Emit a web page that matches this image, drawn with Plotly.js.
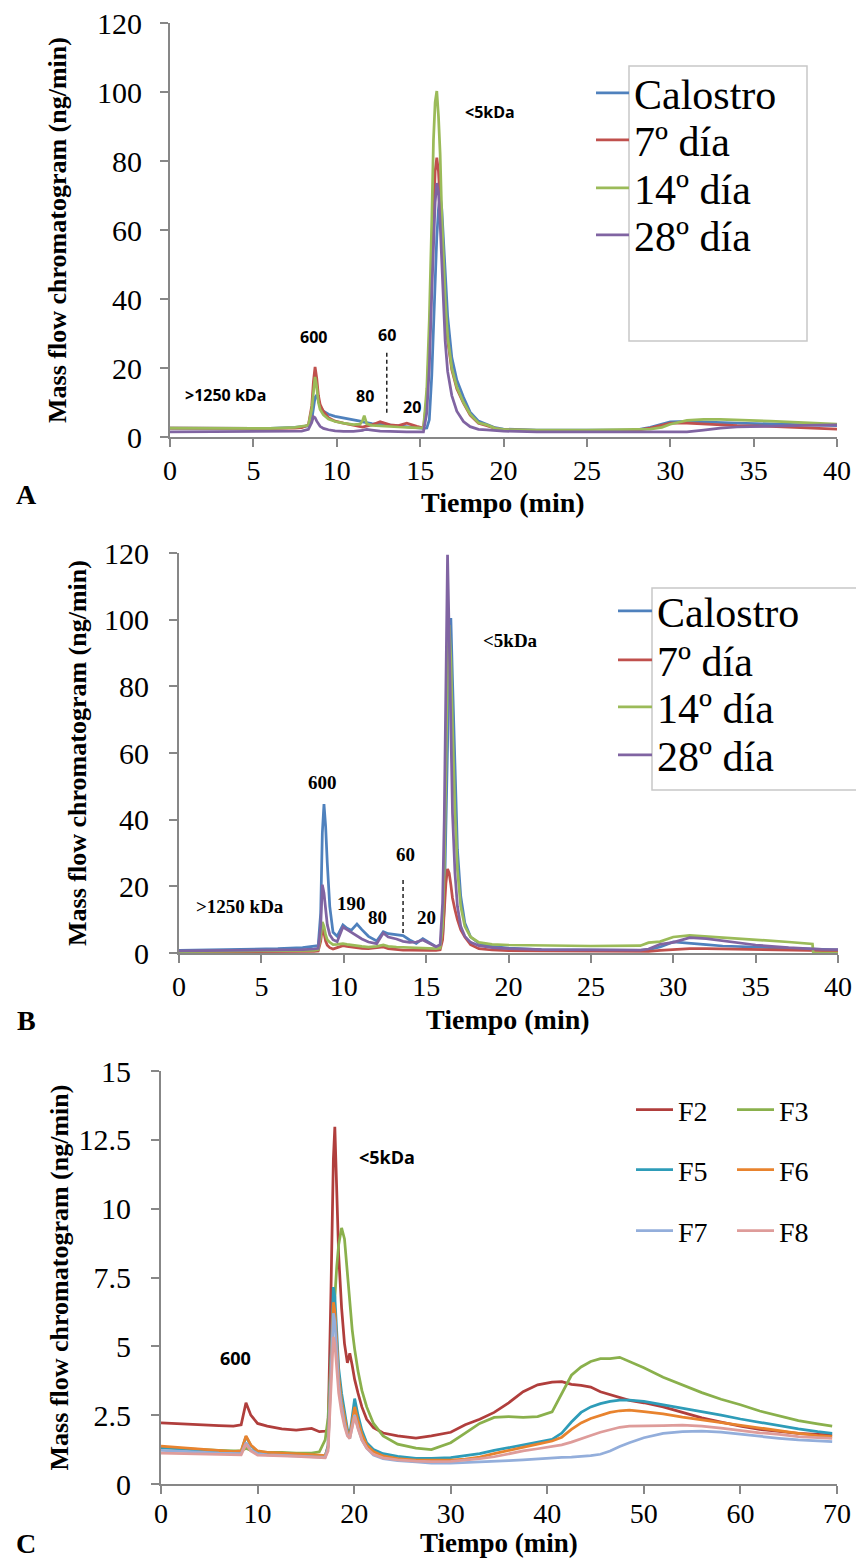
<!DOCTYPE html>
<html><head><meta charset="utf-8">
<script src="https://cdn.plot.ly/plotly-3.0.1.min.js"></script>
<style>html,body{margin:0;padding:0;background:#fff}#chart{width:856px;height:1560px}</style>
</head><body><div id="chart"></div>
<script>
// ---------------- Panel A data ----------------
const timeA = [0,3,6,7.5,7.9,8.3,8.5,8.6,8.7,8.8,8.9,9.0,9.2,9.5,9.9,10.4,11.0,11.4,11.55,11.65,11.8,12.1,12.6,13.2,13.7,14.2,14.8,15.2,
  15.4,15.55,15.7,15.8,15.9,16.0,16.1,16.2,16.3,16.4,16.5,16.65,16.9,17.2,17.6,18.0,18.5,19.0,19.5,20,
  22,25,28,28.8,29.5,30,31,32,33,34,36,38,40];
const calostroA = [2.6,2.5,2.5,2.8,3.0,3.2,5,8.5,11.5,12.2,10.5,8.8,7.5,6.6,6.0,5.6,5.0,4.6,4.4,4.3,4.1,3.9,3.7,3.4,3.1,2.9,2.6,2.5,
  2.6,5,18,32,47,58,66,70,66,57,47,35,23,16.5,11.5,7.2,4.6,3.7,2.7,2.3,
  2.0,2.0,2.1,2.8,3.7,4.4,4.5,4.3,4.2,4.0,3.8,3.5,3.3];
const dia7A = [2.6,2.5,2.5,2.6,2.7,3.5,9,16,20.3,17,12,9.5,7.4,5.6,4.6,4.0,3.4,3.0,2.9,3.0,3.1,3.5,4.4,3.5,3.3,4.0,3.1,2.6,
  11,27,50,67,77,81,77,68,56,45,37,28,19.5,14,9.8,6.3,4.0,3.3,2.5,2.1,
  1.9,1.9,2.0,2.6,3.4,4.0,4.0,3.7,3.5,3.3,3.1,2.8,2.3];
const dia14A = [2.6,2.5,2.5,2.8,3.1,3.4,8,14,17.4,14.5,10,8,6.4,5.2,4.5,4.0,3.6,3.7,4.8,6.2,3.8,3.4,3.2,3.0,2.9,2.8,2.7,2.6,
  14,34,63,86,97,100.3,93,82,64,50,40,29,20,14.5,10,6.6,4.1,3.5,2.5,2.2,
  2.0,2.0,2.1,2.3,2.8,3.7,4.8,5.1,5.1,5.0,4.6,4.2,3.7];
const dia28A = [1.5,1.5,1.5,1.6,1.7,2.2,4.2,5.9,5.6,4.6,3.7,3.1,2.5,2.1,1.8,1.6,1.6,1.7,1.9,2.1,2.2,2.0,1.7,1.6,1.5,1.5,1.5,1.5,
  7,20,42,58,68,73.6,71,62,50,38,28,19,12,7.5,4.5,3.0,2.2,2.1,1.8,1.7,
  1.5,1.5,1.5,1.5,1.4,1.4,1.5,2.0,2.6,2.9,3.2,3.4,3.5];

// ---------------- Panel B data ----------------
const timeB = [0,3,6,7.5,8.2,8.45,8.6,8.7,8.8,8.9,9.0,9.15,9.35,9.6,9.95,10.2,10.45,10.8,11.1,11.5,12.0,12.4,12.7,13.2,13.6,14.0,14.4,14.8,15.2,15.6,15.85,
  16.0,16.1,16.2,16.3,16.4,16.5,16.6,16.75,16.9,17.1,17.35,17.7,18.2,19,20,
  22,25,28,28.5,29.2,30,31,32,33,35,37,38.45,38.5,39,40];
const calostroB = [0.8,1.0,1.3,1.6,2.0,2.2,12,36,44.7,38,27,14,6.2,5.0,8.4,7.4,6.8,8.7,7.0,5.0,3.6,6.4,5.8,5.4,5.2,3.9,2.9,4.3,3.0,1.9,2.1,
  5,14,35,62,95,100.5,82,52,31,17,9,4.8,2.9,2.0,1.5,
  1.0,0.8,0.8,1.0,1.8,3.3,3.0,2.5,2.1,1.7,1.3,1.1,1.1,1.0,0.9];
const dia7B = [0.3,0.3,0.4,0.4,0.5,0.6,3.5,7.5,6.0,3.6,2.3,1.6,1.2,1.6,2.2,2.0,1.8,1.6,1.4,1.3,1.5,1.8,1.3,1.0,0.9,0.9,0.8,0.8,0.8,0.8,1.0,
  4,12,21,25.2,24,20.5,16.5,13,10,7,4.8,2.5,1.3,0.9,0.7,
  0.6,0.5,0.5,0.5,0.8,1.0,1.3,1.3,1.2,1.0,0.8,0.7,0.7,0.6,0.6];
const dia14B = [0.4,0.5,0.6,0.7,0.8,1.0,5,9.3,8.0,5.5,4.0,3.2,2.5,2.6,2.8,2.6,2.4,2.2,2.0,1.8,2.0,2.4,2.0,1.8,1.7,1.6,1.5,1.4,1.3,1.3,1.5,
  8,25,55,85,98.4,88,68,42,25,14,8,4.8,3.2,2.6,2.4,
  2.2,2.1,2.2,3.1,3.4,4.8,5.3,5.0,4.6,3.9,3.3,2.7,0,0,0];
const dia28B = [0.6,0.7,0.8,1.0,1.2,1.4,8,20.5,18,12,8.5,5.5,4.0,3.4,7.8,7.0,6.2,5.0,4.2,3.3,2.8,6.0,4.8,4.2,3.5,3.2,3.3,3.9,2.8,1.9,2.5,
  15,40,85,119.5,95,65,42,24,14,8,5,3.2,2.2,1.6,1.3,
  1.0,0.9,0.9,1.2,2.6,3.2,4.6,4.3,3.6,2.4,1.6,1.2,1.2,1.1,1.0];

// ---------------- Panel C data ----------------
const timeC = [0,2,4,6,7.5,8.3,8.8,9.3,10,11,12.5,14,15.6,16.4,17.0,17.3,17.6,17.85,18.0,18.2,18.4,18.7,19.0,19.3,19.55,
  19.8,20.05,20.4,20.8,21.3,22,23,24.5,26.4,28,30,31.5,33,34.5,36,37.5,39,40.5,41.5,42.5,43.5,44.5,45.5,46.5,47.5,
  48.5,50,52,54,56,58,60,62,64,66,68,69.5];
const F2 = [2.22,2.18,2.15,2.12,2.1,2.15,2.95,2.5,2.2,2.1,2.0,1.96,2.02,1.9,1.92,1.95,7.0,11.8,12.97,10.8,8.3,6.4,5.1,4.4,4.75,
  4.3,3.8,3.3,2.8,2.35,2.05,1.85,1.75,1.67,1.75,1.88,2.15,2.35,2.6,2.95,3.35,3.6,3.7,3.72,3.62,3.58,3.52,3.35,3.25,3.15,
  3.04,2.95,2.8,2.6,2.4,2.25,2.1,1.98,1.9,1.84,1.8,1.78];
const F3 = [1.32,1.28,1.25,1.22,1.2,1.2,1.3,1.22,1.18,1.15,1.15,1.12,1.12,1.17,1.6,2.4,4.5,6.0,6.8,7.9,8.7,9.3,8.9,7.6,6.8,
  5.6,4.9,4.1,3.4,2.8,2.2,1.75,1.45,1.3,1.25,1.5,1.85,2.2,2.42,2.45,2.42,2.45,2.62,3.3,3.95,4.25,4.45,4.55,4.55,4.6,
  4.45,4.22,3.88,3.6,3.32,3.08,2.88,2.65,2.48,2.3,2.18,2.1];
const F5 = [1.32,1.28,1.22,1.2,1.15,1.18,1.72,1.4,1.18,1.12,1.1,1.08,1.05,1.02,1.0,1.4,5.0,7.15,6.8,5.4,4.2,3.3,2.6,2.0,1.78,
  2.5,3.1,2.5,1.95,1.5,1.25,1.1,1.0,0.93,0.93,0.96,1.02,1.1,1.22,1.32,1.42,1.52,1.62,1.85,2.25,2.6,2.8,2.92,3.0,3.05,
  3.05,3.0,2.88,2.74,2.62,2.5,2.36,2.24,2.1,2.0,1.9,1.84];
const F6 = [1.38,1.32,1.26,1.22,1.18,1.2,1.75,1.42,1.2,1.15,1.13,1.1,1.07,1.05,1.03,1.35,4.6,6.6,6.3,5.0,3.9,3.0,2.4,1.9,1.72,
  2.3,2.8,2.3,1.8,1.42,1.18,1.02,0.92,0.87,0.86,0.87,0.9,0.98,1.1,1.22,1.35,1.45,1.56,1.7,1.98,2.22,2.38,2.5,2.6,2.66,
  2.68,2.63,2.55,2.43,2.33,2.22,2.12,2.02,1.92,1.84,1.76,1.72];
const F7 = [1.22,1.2,1.16,1.12,1.1,1.1,1.5,1.25,1.1,1.06,1.04,1.02,1.0,0.98,0.97,1.3,4.3,6.2,5.9,4.7,3.6,2.8,2.2,1.8,1.65,
  2.1,2.5,2.05,1.6,1.3,1.05,0.92,0.85,0.8,0.76,0.76,0.78,0.8,0.81,0.85,0.88,0.92,0.95,0.97,0.98,1.0,1.03,1.08,1.2,1.36,
  1.5,1.68,1.84,1.9,1.92,1.88,1.8,1.74,1.66,1.6,1.56,1.54];
const F8 = [1.12,1.1,1.08,1.06,1.05,1.06,1.45,1.2,1.05,1.03,1.02,1.0,0.98,0.96,0.95,1.2,3.8,5.35,5.1,4.2,3.3,2.6,2.1,1.75,1.65,
  2.05,2.45,2.0,1.6,1.3,1.08,0.95,0.88,0.83,0.81,0.82,0.86,0.92,0.99,1.1,1.2,1.28,1.36,1.42,1.52,1.63,1.76,1.88,1.98,2.06,
  2.1,2.1,2.12,2.14,2.1,2.03,1.94,1.86,1.8,1.72,1.68,1.66];

// labels
const namesAB = ['Calostro','7º día','14º día','28º día'];
const namesC = ['F2','F3','F5','F6','F7','F8'];
const xTitle = 'Tiempo (min)';
const yTitle = 'Mass flow chromatogram (ng/min)';

// size-fraction marker lines (time, y from, y to)
const dashA = {t: 13.0, y0: 7.0, y1: 24.6};
const dashB = {t: 13.6, y0: 6.0, y1: 22.5};

// ---------------- layout helpers ----------------
const W = 856, H = 1560;
const fx = p => p / W;
const fy = p => 1 - p / H;
const serif = 'Liberation Serif, Times New Roman, serif';
const sans = 'Open Sans, Liberation Sans, sans-serif';
const axisGray = '#878787';
const colorsAB = ['#4F81BD','#C0504D','#9BBB59','#8064A2'];
const colorsC = ['#B03E3C','#8AB04C','#2E9CB8','#E8832E','#93AEDB','#DE9C9A'];
const LW = 2.75;

const traces = [];
const seriesA = [calostroA, dia7A, dia14A, dia28A];
const seriesB = [calostroB, dia7B, dia14B, dia28B];
const seriesC = [F2, F3, F5, F6, F7, F8];
let legendIdx = 1;
const lid = () => { const s = legendIdx === 1 ? 'legend' : 'legend' + legendIdx; legendIdx++; return s; };

seriesA.forEach((ys, i) => traces.push({type:'scatter', mode:'lines', x: timeA, y: ys, xaxis:'x', yaxis:'y',
  name: namesAB[i], legend: lid(), line:{color: colorsAB[i], width: LW}}));
seriesB.forEach((ys, i) => traces.push({type:'scatter', mode:'lines', x: timeB, y: ys, xaxis:'x2', yaxis:'y2',
  name: namesAB[i], legend: lid(), line:{color: colorsAB[i], width: LW}}));
seriesC.forEach((ys, i) => traces.push({type:'scatter', mode:'lines', x: timeC, y: ys, xaxis:'x3', yaxis:'y3',
  name: namesC[i], legend: lid(), line:{color: colorsC[i], width: LW}}));

traces.push({type:'scatter', mode:'lines', x:[dashA.t, dashA.t], y:[dashA.y0, dashA.y1], xaxis:'x', yaxis:'y',
  showlegend:false, hoverinfo:'skip', line:{color:'#222', width:1.5, dash:'4px,3px'}});
traces.push({type:'scatter', mode:'lines', x:[dashB.t, dashB.t], y:[dashB.y0, dashB.y1], xaxis:'x2', yaxis:'y2',
  showlegend:false, hoverinfo:'skip', line:{color:'#222', width:1.5, dash:'4px,3px'}});

function xAxis(l, r, range, dtick, anchor, lab) {
  return {domain:[fx(l), fx(r)], range, dtick, tick0:0, anchor, showline:true, linecolor:axisGray, linewidth:2,
    ticks:'outside', ticklen:8, tickwidth:2, tickcolor:axisGray, showgrid:false, zeroline:false, automargin:false,
    tickfont:{family:serif, size:28, color:'#000'}, ticklabelstandoff: lab, fixedrange:true};
}
function yAxis(t, b, range, dtick, anchor, lab, so) {
  return {domain:[fy(b), fy(t)], range, dtick, tick0:0, anchor, showline:true, linecolor:axisGray, linewidth:2,
    ticks:'outside', ticklen:8, tickwidth:2, tickcolor:axisGray, showgrid:false, zeroline:false, automargin:false,
    tickfont:{family:serif, size:30, color:'#000'}, ticklabelstandoff: lab,
    title:{text:yTitle, font:{family:serif, size:26, color:'#000', weight:'bold'}, standoff:so}, fixedrange:true};
}

function leg(xPx, yPx, size, iw) {
  return {x: fx(xPx), y: fy(yPx), xanchor:'left', yanchor:'middle', bgcolor:'rgba(0,0,0,0)', borderwidth:0,
    font:{family:serif, size, color:'#000'}, itemwidth: iw, tracegroupgap:0};
}

const layout = {
  width: W, height: H, margin:{l:0, r:0, t:0, b:0}, paper_bgcolor:'#fff', plot_bgcolor:'rgba(0,0,0,0)',
  xaxis: xAxis(170, 837, [0, 40], 5, 'y', -1),
  yaxis: yAxis(23, 437, [0, 120], 20, 'x', 12, 23),
  xaxis2: xAxis(179, 838, [0, 40], 5, 'y2', -1),
  yaxis2: yAxis(553, 953, [0, 120], 20, 'x2', 14, 10),
  xaxis3: xAxis(161, 837, [0, 70], 10, 'y3', -5),
  yaxis3: yAxis(1071, 1484, [0, 15], 2.5, 'x3', 14, 2),
  legend: leg(591, 93, 42, 33), legend2: leg(591, 140, 42, 33), legend3: leg(591, 188, 42, 33), legend4: leg(591, 235, 42, 33),
  legend5: leg(613, 611, 42, 34), legend6: leg(613, 660, 42, 34), legend7: leg(613, 707, 42, 34), legend8: leg(613, 755, 42, 34),
  legend9: leg(631, 1110, 28, 37), legend10: leg(732, 1110, 28, 37),
  legend11: leg(631, 1170, 28, 37), legend12: leg(732, 1170, 28, 37),
  legend13: leg(631, 1231, 28, 37), legend14: leg(732, 1231, 28, 37),
  shapes: [
    {type:'rect', xref:'paper', yref:'paper', x0: fx(629), x1: fx(807), y0: fy(341), y1: fy(66), line:{color:'#C8C8C8', width:1.5}, layer:'below'},
    {type:'rect', xref:'paper', yref:'paper', x0: fx(652), x1: fx(870), y0: fy(790), y1: fy(588), line:{color:'#C8C8C8', width:1.5}, layer:'below'}
  ],
  annotations: []
};

const annA = {family:sans, size:16, color:'#000', weight:'bold'};
const annB = {family:serif, size:19, color:'#000', weight:'bold'};
const annC = {family:sans, size:18, color:'#000', weight:'bold'};
const addAnn = (text, x, y, xr, yr, font, ya) => layout.annotations.push({text, x, y, xref:xr, yref:yr, showarrow:false, font, xanchor:'center', yanchor: ya || 'middle'});
// Panel A
addAnn('600', 8.58, 29.0, 'x', 'y', annA);
addAnn('60', 13.0, 29.6, 'x', 'y', annA);
addAnn('80', 11.7, 11.9, 'x', 'y', annA);
addAnn('20', 14.5, 8.7, 'x', 'y', annA);
addAnn('&gt;1250 kDa', 3.3, 12.2, 'x', 'y', annA);
addAnn('&lt;5kDa', 19.2, 94.2, 'x', 'y', annA);
// Panel B
addAnn('600', 8.68, 51.3, 'x2', 'y2', annB);
addAnn('190', 10.44, 15.0, 'x2', 'y2', annB);
addAnn('80', 12.02, 10.8, 'x2', 'y2', annB);
addAnn('60', 13.72, 29.7, 'x2', 'y2', annB);
addAnn('20', 15.0, 10.8, 'x2', 'y2', annB);
addAnn('&gt;1250 kDa', 3.7, 14.1, 'x2', 'y2', annB);
addAnn('&lt;5kDa', 20.1, 93.9, 'x2', 'y2', annB);
// Panel C
addAnn('600', 7.76, 4.57, 'x3', 'y3', annC);
addAnn('&lt;5kDa', 23.4, 11.86, 'x3', 'y3', annC);
// X-axis titles
const xTitleFont = {family:serif, size:28, color:'#000', weight:'bold'};
addAnn(xTitle, fx(503), fy(503), 'paper', 'paper', xTitleFont);
addAnn(xTitle, fx(508), fy(1019), 'paper', 'paper', xTitleFont);
addAnn(xTitle, fx(499), 0, 'paper', 'paper', {family:serif, size:27, color:'#000', weight:'bold'}, 'bottom');
// Panel letters
const letterFont = {family:serif, size:28, color:'#000', weight:'bold'};
addAnn('A', fx(26), fy(494), 'paper', 'paper', letterFont);
addAnn('B', fx(26), fy(1020), 'paper', 'paper', letterFont);
addAnn('C', fx(26), fy(1543), 'paper', 'paper', letterFont);

Plotly.newPlot('chart', traces, layout, {displayModeBar:false, staticPlot:true});
</script></body></html>
